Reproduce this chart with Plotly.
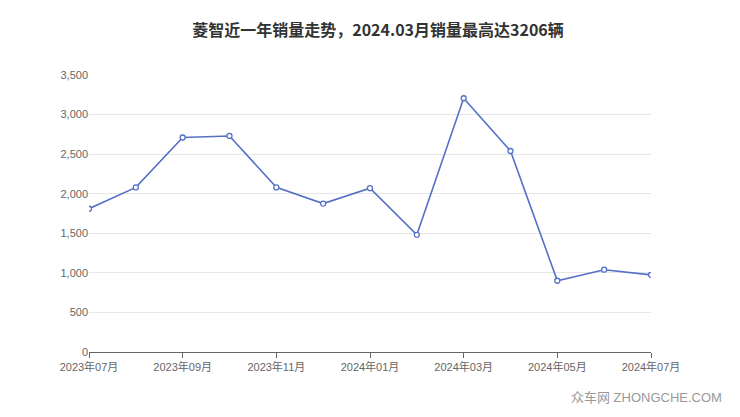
import plotly.graph_objects as go

months = ["2023-07","2023-08","2023-09","2023-10","2023-11","2023-12","2024-01","2024-02","2024-03","2024-04","2024-05","2024-06","2024-07"]
sales = [1810, 2080, 2710, 2730, 2080, 1875, 2070, 1480, 3206, 2540, 900, 1040, 975]
tick_vals = ["2023-07","2023-09","2023-11","2024-01","2024-03","2024-05","2024-07"]
tick_text = ["2023年07月","2023年09月","2023年11月","2024年01月","2024年03月","2024年05月","2024年07月"]
title = "菱智近一年销量走势，2024.03月销量最高达3206辆"

fig = go.Figure(go.Scatter(
    x=months, y=sales, mode="lines+markers",
    line=dict(color="#5470c6", width=1.6),
    marker=dict(size=5, color="white", line=dict(color="#5470c6", width=1.3)),
))
fig.update_layout(
    width=740, height=417, margin=dict(l=81, r=97, t=67, b=73, autoexpand=False),
    paper_bgcolor="white", plot_bgcolor="white", showlegend=False,
    font=dict(family="Liberation Sans, Noto Sans CJK SC", color="#666", size=11),
    title=dict(text="<b>"+title+"</b>", x=0.5, y=0.96, xanchor="center",
               font=dict(size=16, color="#333", family="Noto Sans CJK SC")),
)
fig.update_xaxes(type="category", tickvals=tick_vals, ticktext=tick_text, automargin=False,
                 showline=True, linecolor="#666", ticks="outside", ticklen=5,
                 tickcolor="#666", showgrid=False, range=[0, 12])
fig.update_yaxes(range=[0, 3500], dtick=500, tickformat=",", gridcolor="#e6e6e6", automargin=False,
                 zeroline=False, showline=False)
fig.add_annotation(text="众车网 ZHONGCHE.COM", xref="paper", yref="paper", x=1.13, y=-0.13,
                   xanchor="right", yanchor="top", showarrow=False,
                   font=dict(size=13, color="#999"))
fig.write_html("out.html")
